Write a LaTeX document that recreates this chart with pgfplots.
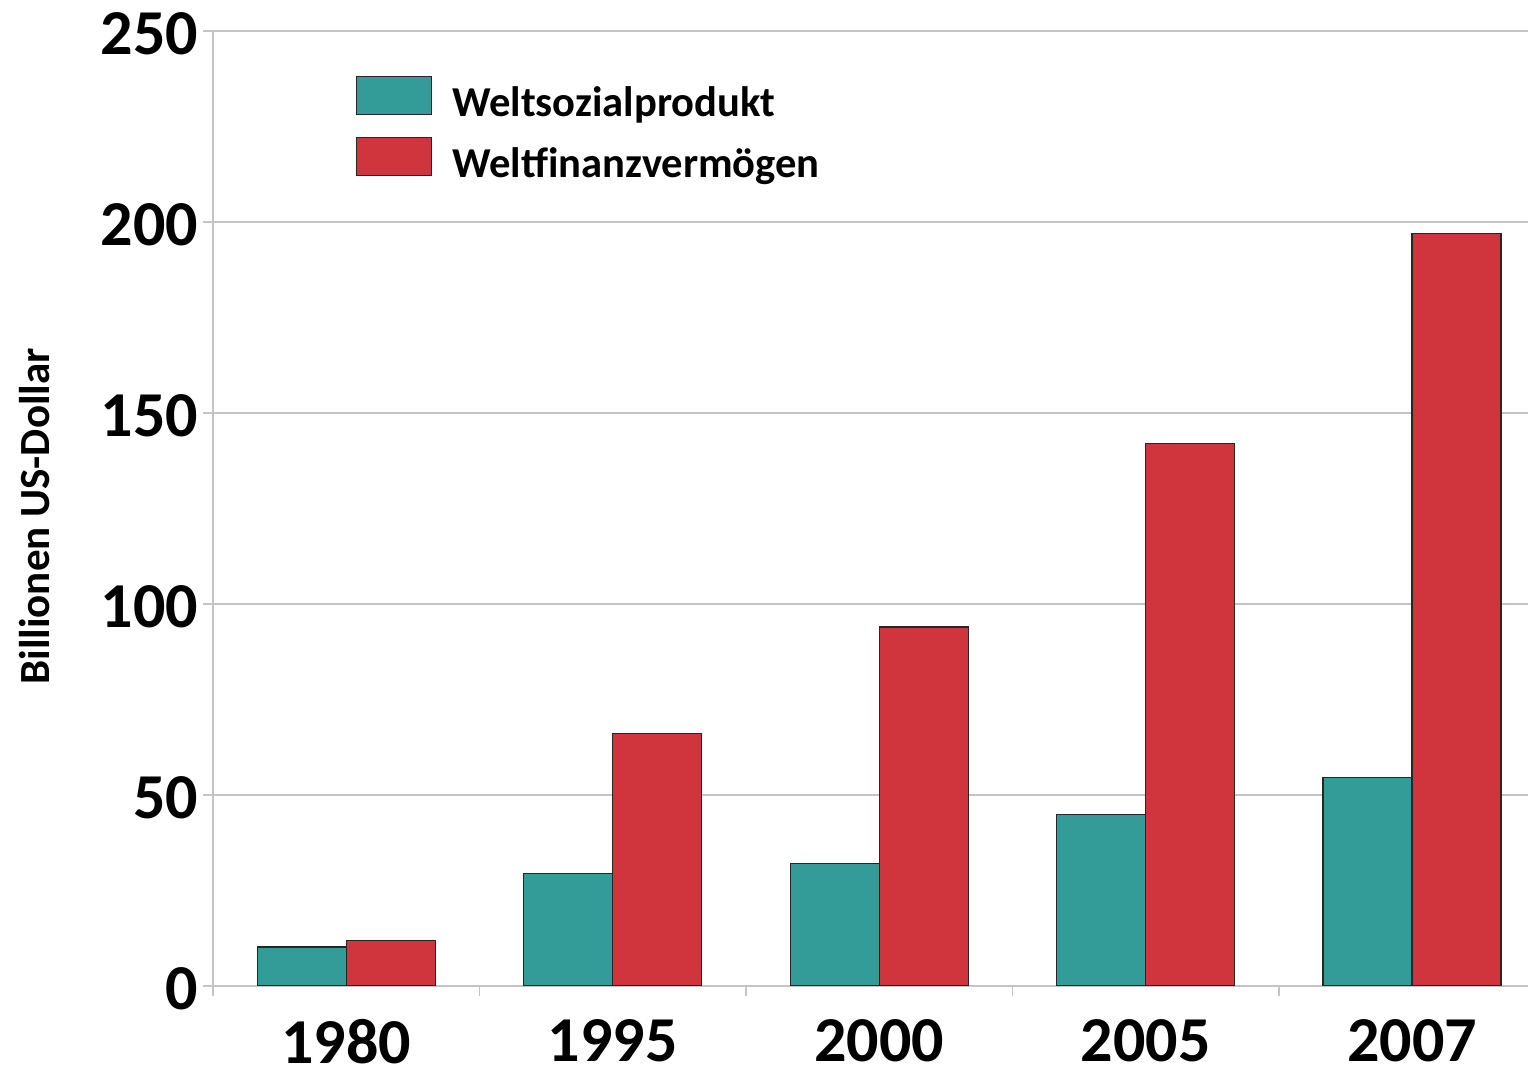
\documentclass[border=0pt]{standalone}
\usepackage{fontspec}
\setmainfont{Carlito}
\usepackage{pgfplots}
\pgfplotsset{compat=1.18}
\definecolor{tealbar}{HTML}{339B98}
\definecolor{redbar}{HTML}{D0343D}
\definecolor{gridgray}{HTML}{C4C4C4}
\begin{document}
\begin{tikzpicture}
\begin{axis}[
  scale only axis, width=657.5pt, height=477.5pt,
  xmin=-0.5, xmax=4.435, ymin=0, ymax=250,
  ybar=0pt, bar width=0.334,
  axis lines*=left,
  axis line style={gridgray, line width=0.8pt},
  ytick={0,50,100,150,200,250},
  ymajorgrids, grid style={gridgray, line width=0.7pt},
  xtick={-0.5,0.5,1.5,2.5,3.5},
  xticklabels={,,,,},
  extra x ticks={0,1,2,3,4},
  extra x tick labels={1980,1995,2000,2005,2007},
  extra x tick style={major tick length=0pt, grid=none},
  tick align=outside,
  major tick length=5pt,
  tick style={gridgray, line width=0.8pt},
  /pgf/number format/assume math mode=true,
  ticklabel style={font=\fontsize{32}{38}\selectfont\bfseries},
  yticklabel style={xshift=1pt, yshift=-1.5pt},
  xticklabel style={inner sep=0pt, text depth=0pt, anchor=north, yshift=-16.5pt},
  ylabel={Billionen US-Dollar},
  every axis y label/.style={at={(rel axis cs:0,0.5)}, shift={(-89pt,-4pt)}, rotate=90, anchor=center, font=\fontsize{21.5}{25}\selectfont\bfseries},
  legend style={at={(rel axis cs:0.1087,0.953)}, anchor=north west, draw=none, fill=none, inner sep=0pt, outer sep=0pt, row sep=8.5pt, font=\fontsize{21.3}{25}\selectfont\bfseries, nodes={inner sep=0pt, outer sep=0pt}},
  legend cell align=left,
  legend image code/.code={\draw[#1] (0pt,-5.5pt) rectangle (37.5pt,13.5pt);},
  /tikz/every odd column/.append style={column sep=10pt},
]
\addplot[fill=tealbar, draw=black!85, line width=0.6pt] coordinates {(0,10.2) (1,29.5) (2,32) (3,44.8) (4,54.5)};
\addplot[fill=redbar, draw=black!85, line width=0.6pt] coordinates {(0,12) (1,66) (2,94) (3,142) (4,197)};
\legend{Weltsozialprodukt, Weltfinanzvermögen}
\coordinate (sw) at (rel axis cs:0,0);
\coordinate (ne) at (rel axis cs:1,1);
\end{axis}
\pgfresetboundingbox
\path[use as bounding box] ([shift={(-106.5pt,-42.5pt)}]sw) rectangle ([shift={(0pt,15.5pt)}]ne);
\end{tikzpicture}
\end{document}
